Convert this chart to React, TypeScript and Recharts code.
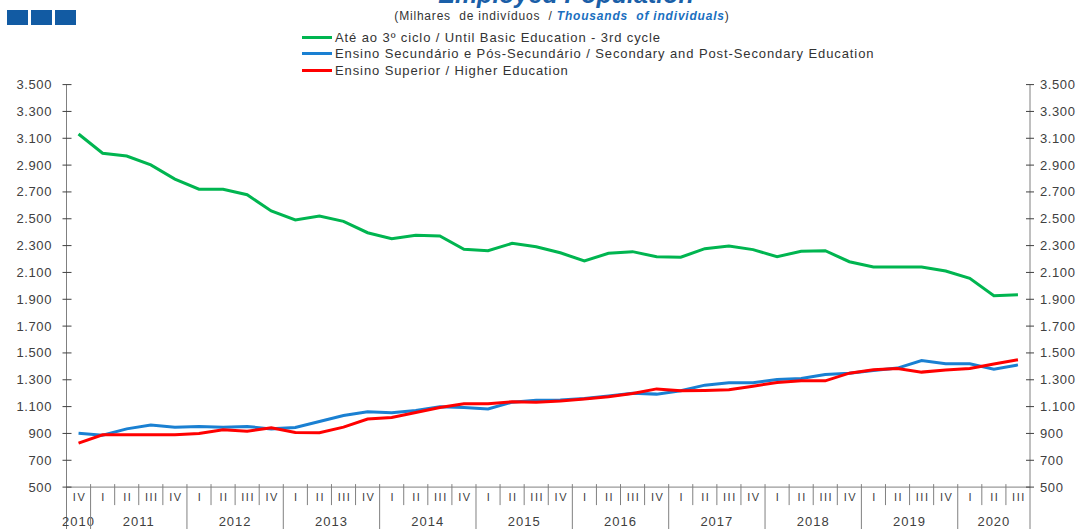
import React from 'react';
import { LineChart, Line, XAxis, YAxis } from 'recharts';

// quarters, 2010 IV .. 2020 III
const periods = [
  '2010 IV',
  '2011 I', '2011 II', '2011 III', '2011 IV',
  '2012 I', '2012 II', '2012 III', '2012 IV',
  '2013 I', '2013 II', '2013 III', '2013 IV',
  '2014 I', '2014 II', '2014 III', '2014 IV',
  '2015 I', '2015 II', '2015 III', '2015 IV',
  '2016 I', '2016 II', '2016 III', '2016 IV',
  '2017 I', '2017 II', '2017 III', '2017 IV',
  '2018 I', '2018 II', '2018 III', '2018 IV',
  '2019 I', '2019 II', '2019 III', '2019 IV',
  '2020 I', '2020 II', '2020 III',
];

// thousands of individuals
const untilBasic = [
  3132, 2988, 2968, 2901, 2796, 2720, 2720, 2679, 2558, 2491,
  2521, 2481, 2396, 2352, 2377, 2372, 2273, 2262, 2317, 2292,
  2247, 2185, 2243, 2255, 2217, 2213, 2277, 2297, 2270, 2217,
  2258, 2262, 2180, 2141, 2141, 2141, 2111, 2056, 1927, 1934,
];
const secondary = [
  902, 887, 934, 962, 947, 952, 947, 952, 934, 944,
  989, 1034, 1061, 1054, 1071, 1098, 1093, 1083, 1133, 1148,
  1150, 1160, 1180, 1200, 1193, 1218, 1260, 1277, 1277, 1302,
  1309, 1339, 1349, 1369, 1387, 1443, 1419, 1419, 1379, 1411,
];
const higher = [
  828, 890, 890, 890, 890, 899, 927, 917, 942, 907,
  905, 947, 1007, 1019, 1056, 1093, 1121, 1121, 1136, 1133,
  1141, 1156, 1173, 1197, 1232, 1218, 1220, 1225, 1252, 1279,
  1292, 1292, 1349, 1374, 1384, 1357, 1372, 1384, 1417, 1449,
];

const yTicks = [500, 700, 900, 1100, 1300, 1500, 1700, 1900, 2100, 2300, 2500, 2700, 2900, 3100, 3300, 3500];

// both y axes share the same scale; one series is bound to the right one so it renders its ticks
const series = [
  { key: 'basic', axis: 'right', color: '#00b550', label: 'Até ao 3º ciclo / Until Basic Education - 3rd cycle' },
  { key: 'secondary', axis: 'left', color: '#1a80d2', label: 'Ensino Secundário e Pós-Secundário / Secondary and Post-Secondary Education' },
  { key: 'higher', axis: 'left', color: '#ff0000', label: 'Ensino Superior / Higher Education' },
];

const data = periods.map((p, i) => ({
  period: p,
  basic: untilBasic[i],
  secondary: secondary[i],
  higher: higher[i],
}));

const W = 1081;
const H = 529;
const PLOT_LEFT = 66.5;
const PLOT_RIGHT = 1030;
const PLOT_TOP = 84.6;
const PLOT_BOTTOM = 487.1;
const BAND = (PLOT_RIGHT - PLOT_LEFT) / periods.length;
const AXIS = '#808080';
const TEXT = '#404040';
const FONT = '"Liberation Sans", Arial, sans-serif';

const fmt = (v: number) => String(v).replace(/\B(?=(\d{3})+(?!\d))/g, '.');
const yearOf = (i: number) => periods[i].split(' ')[0];

const XTick = (props: any) => {
  const { x, y, payload } = props;
  const i = periods.indexOf(payload.value);
  if (i < 0) return null;
  const [year, q] = periods[i].split(' ');
  const left = x - BAND / 2;
  const yearStart = i === 0 || yearOf(i - 1) !== year;
  const last = i === periods.length - 1;
  let yearLabel = null;
  if (yearStart) {
    let end = i;
    while (end + 1 < periods.length && yearOf(end + 1) === year) end++;
    yearLabel = (
      <text x={x + ((end - i) / 2) * BAND} y={y + 39} textAnchor="middle" fontSize={13} fill={TEXT} fontFamily={FONT} letterSpacing={1}>
        {year}
      </text>
    );
  }
  return (
    <g>
      <line x1={left} x2={left} y1={y - 3} y2={yearStart ? H : y + 18} stroke={AXIS} />
      {last && <line x1={x + BAND / 2} x2={x + BAND / 2} y1={y} y2={H} stroke={AXIS} />}
      <text x={x + 1} y={y + 14} textAnchor="middle" fontSize={11} fill={TEXT} fontFamily={FONT} letterSpacing={1.5}>
        {q}
      </text>
      {yearLabel}
    </g>
  );
};

const LeftTick = (props: any) => {
  const { x, y, payload } = props;
  const ax = x + 14.5;
  return (
    <g>
      <line x1={ax - 4} x2={ax + 5} y1={y} y2={y} stroke={TEXT} />
      <text x={x} y={y} dy="0.35em" textAnchor="end" fontSize={13} fill={TEXT} fontFamily={FONT} letterSpacing={0.6}>
        {fmt(payload.value)}
      </text>
    </g>
  );
};

const RightTick = (props: any) => {
  const { x, y, payload } = props;
  const ax = x - 10;
  return (
    <g>
      <line x1={ax - 4} x2={ax + 4} y1={y} y2={y} stroke={TEXT} />
      <text x={x} y={y} dy="0.35em" textAnchor="start" fontSize={13} fill={TEXT} fontFamily={FONT} letterSpacing={0.6}>
        {fmt(payload.value)}
      </text>
    </g>
  );
};

export default function App() {
  return (
    <div style={{ position: 'absolute', left: 0, top: 0, width: W, height: H, overflow: 'hidden', background: '#fff', fontFamily: FONT }}>
      {/* header */}
      <div style={{ position: 'absolute', left: 7, top: 10, display: 'flex', gap: 3 }}>
        {[0, 1, 2].map((k) => (
          <div key={k} style={{ width: 21, height: 15, background: '#125ba3' }} />
        ))}
      </div>
      <div style={{ position: 'absolute', left: 0, width: 1132, top: -18, textAlign: 'center', fontSize: 25, lineHeight: '25px', fontWeight: 'bold', fontStyle: 'italic', color: '#1a5fa8' }}>
        Employed Population
      </div>
      <div style={{ position: 'absolute', left: 0, width: 1124, top: 10, textAlign: 'center', fontSize: 12, lineHeight: '12px', color: '#333', whiteSpace: 'pre', letterSpacing: 0.8 }}>
        {'(Milhares  de indivíduos  / '}
        <span style={{ color: '#1a6fc0', fontWeight: 'bold', fontStyle: 'italic' }}>Thousands  of individuals</span>
        {')'}
      </div>
      {/* legend */}
      <div style={{ position: 'absolute', left: 302, top: 29 }}>
        {series.map((s) => (
          <div key={s.key} style={{ display: 'flex', alignItems: 'center', height: 16.5 }}>
            <div style={{ width: 30, height: 3, background: s.color, marginRight: 3 }} />
            <span style={{ fontSize: 13, color: '#333', letterSpacing: 0.9, whiteSpace: 'pre' }}>{s.label}</span>
          </div>
        ))}
      </div>

      <LineChart width={W} height={H} data={data} margin={{ top: PLOT_TOP, right: 0, left: 0, bottom: 0 }}>
        <XAxis
          dataKey="period"
          scale="point"
          padding={{ left: BAND / 2, right: BAND / 2 }}
          interval={0}
          tickSize={0}
          tickMargin={0}
          tickLine={false}
          axisLine={{ stroke: AXIS }}
          height={H - PLOT_BOTTOM}
          tick={<XTick />}
        />
        <YAxis
          yAxisId="left"
          domain={[500, 3500]}
          ticks={yTicks}
          interval={0}
          width={PLOT_LEFT}
          tickSize={0}
          tickMargin={14.5}
          tickLine={false}
          axisLine={{ stroke: AXIS }}
          tick={<LeftTick />}
        />
        <YAxis
          yAxisId="right"
          orientation="right"
          domain={[500, 3500]}
          ticks={yTicks}
          interval={0}
          width={W - PLOT_RIGHT}
          tickSize={0}
          tickMargin={10}
          tickLine={false}
          axisLine={{ stroke: AXIS }}
          tick={<RightTick />}
        />
        {series.map((s) => (
          <Line
            key={s.key}
            yAxisId={s.axis}
            type="linear"
            dataKey={s.key}
            stroke={s.color}
            strokeWidth={3}
            dot={false}
            isAnimationActive={false}
          />
        ))}
      </LineChart>
    </div>
  );
}
